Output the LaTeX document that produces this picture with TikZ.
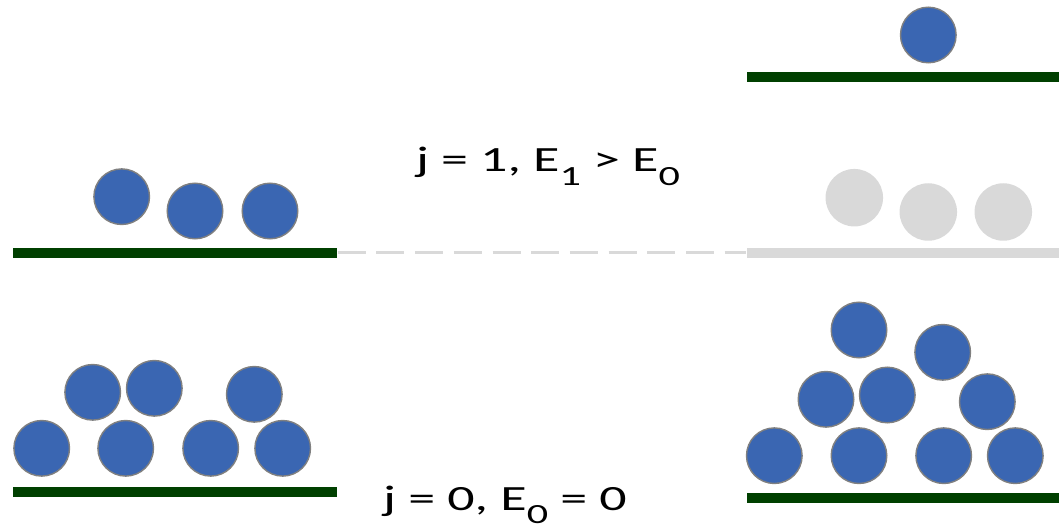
\documentclass[tikz,border=0pt]{standalone}
\usepackage{fontspec}
\setmainfont{Carlito}
\newcommand{\lowidx}[1]{\raisebox{-3.8pt}{\fontsize{7.9}{9}\selectfont #1}}
\definecolor{ballblue}{RGB}{58,102,178}
\definecolor{ballrim}{RGB}{128,128,128}
\definecolor{floorgreen}{RGB}{0,64,0}
\definecolor{ghost}{RGB}{217,217,217}

\begin{document}
\begin{tikzpicture}[font=\fontsize{10.1}{12}\selectfont,x=1cm,y=1cm]
    \tikzset{
        ball/.style={circle,draw=ballrim,line width=0.4pt,fill=ballblue,
            inner sep=0pt,minimum size=0.556cm},
        ghostball/.style={circle,fill=ghost,inner sep=0pt,minimum size=0.575cm},
        floor/.style={rectangle,fill=floorgreen,inner sep=0pt,minimum height=0.10cm},
        ghostfloor/.style={rectangle,fill=ghost,inner sep=0pt,minimum height=0.10cm},
        gap/.style={draw=ghost,line width=0.03cm,dash pattern=on 0.28cm off 0.107cm}
    }
    \useasboundingbox (0,0) rectangle (10.59,5.25);

    % excited level
    \node[floor,minimum width=3.24cm] (floorMidL) at (1.75,2.72) {};
    \node[ball] (a1) at (1.217,3.283) {};
    \node[ball] (a2) at (1.950,3.140) {};
    \node[ball] (a3) at (2.700,3.140) {};

    \node[ghostfloor,minimum width=3.123cm] (floorMidR) at (9.0285,2.72) {};
    \node[ghostball] (g1) at (8.543,3.273) {};
    \node[ghostball] (g2) at (9.283,3.130) {};
    \node[ghostball] (g3) at (10.033,3.130) {};
    \draw[gap] (floorMidL.east) -- (floorMidR.west);

    \node[floor,minimum width=3.123cm] (floorTop) at (9.0285,4.48) {};
    \node[ball] (t1) at (9.283,4.900) {};

    \node[anchor=base] (lblOne) at (5.48,3.533)
        {\scalebox{1.52}[1]{j = 1, E\lowidx{1} > E\lowidx{0}}};

    % ground level
    \node[floor,minimum width=3.24cm] (floorLowL) at (1.75,0.333) {};
    \node[ball] (b1) at (0.417,0.767) {};
    \node[ball] (b2) at (1.257,0.767) {};
    \node[ball] (b3) at (2.107,0.767) {};
    \node[ball] (b4) at (2.827,0.767) {};
    \node[ball] (b5) at (0.927,1.327) {};
    \node[ball] (b6) at (1.543,1.367) {};
    \node[ball] (b7) at (2.543,1.307) {};

    \node[floor,minimum width=3.123cm] (floorLowR) at (9.0285,0.27) {};
    \node[ball] (c1) at (7.743,0.693) {};
    \node[ball] (c2) at (8.590,0.693) {};
    \node[ball] (c3) at (9.437,0.693) {};
    \node[ball] (c4) at (10.153,0.693) {};
    \node[ball] (c5) at (8.260,1.257) {};
    \node[ball] (c6) at (8.873,1.300) {};
    \node[ball] (c7) at (9.873,1.233) {};
    \node[ball] (c8) at (8.590,1.950) {};
    \node[ball] (c9) at (9.427,1.727) {};

    \node[anchor=base] (lblZero) at (5.05,0.15)
        {\scalebox{1.52}[1]{j = 0, E\lowidx{0} = 0}};
\end{tikzpicture}
\end{document}
